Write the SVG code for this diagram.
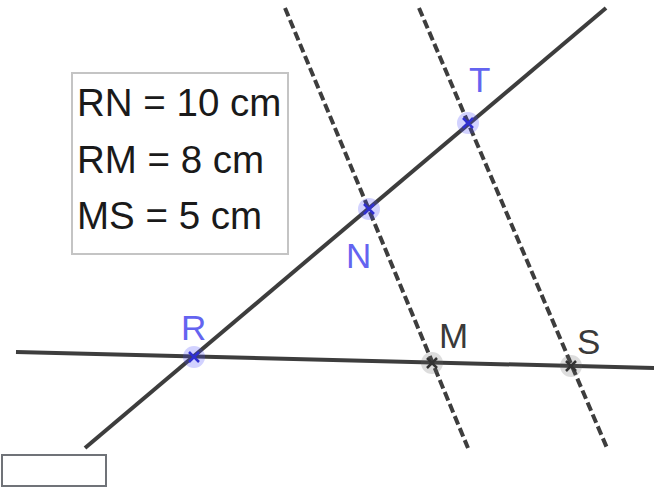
<svg xmlns="http://www.w3.org/2000/svg" width="654" height="488" viewBox="0 0 654 488">
<style>
.ln{stroke:#3d3d3d;stroke-width:4;fill:none;stroke-linecap:butt}
.dash{stroke-dasharray:9 4}
.txt{font-family:"Liberation Sans",Arial,sans-serif;font-size:38.5px;fill:#1a1a1a}
.lbl{font-family:"Liberation Sans",Arial,sans-serif;font-size:35px}
.blue{fill:#6464f0}
.grey{fill:#3a3a3a}
.haloB{fill:#4d4dff;fill-opacity:0.25}
.haloG{fill:#666;fill-opacity:0.22}
.xB{stroke:#3030d0;stroke-width:2.5}
.xG{stroke:#333;stroke-width:2.5}
</style>
<rect width="654" height="488" fill="#fff"/>
<g id="connectors">
<line class="ln" x1="16" y1="352" x2="654" y2="368"/>
<line class="ln" x1="85" y1="448" x2="606" y2="8"/>
<line class="ln dash" x1="285" y1="8" x2="468" y2="448"/>
<line class="ln dash" x1="419" y1="8" x2="607" y2="448"/>
</g>
<g id="infobox">
<rect x="72" y="73" width="216" height="181" fill="#fff" stroke="#c4c4c4" stroke-width="2"/>
<text class="txt" x="77" y="116">RN = 10 cm</text>
<text class="txt" x="77" y="173">RM = 8 cm</text>
<text class="txt" x="77" y="229">MS = 5 cm</text>
</g>
<g id="R">
<circle class="haloB" cx="194" cy="357" r="11"/>
<path class="xB" d="M189 352L199 362M189 362L199 352"/>
<text class="lbl blue" x="181" y="340">R</text>
</g>
<g id="N">
<circle class="haloB" cx="369" cy="209" r="11"/>
<path class="xB" d="M364 204L374 214M364 214L374 204"/>
<text class="lbl blue" x="346" y="268">N</text>
</g>
<g id="T">
<circle class="haloB" cx="468" cy="123" r="11"/>
<path class="xB" d="M463 118L473 128M463 128L473 118"/>
<text class="lbl blue" x="469" y="92">T</text>
</g>
<g id="M">
<circle class="haloG" cx="432" cy="363" r="11"/>
<path class="xG" d="M427 358L437 368M427 368L437 358"/>
<text class="lbl grey" x="439" y="348">M</text>
</g>
<g id="S">
<circle class="haloG" cx="571" cy="366" r="11"/>
<path class="xG" d="M566 361L576 371M566 371L576 361"/>
<text class="lbl grey" x="577" y="354">S</text>
</g>
<g id="inputbox">
<rect x="2" y="455" width="104" height="31" fill="#fff" stroke="#707378" stroke-width="2"/>
</g>
</svg>
